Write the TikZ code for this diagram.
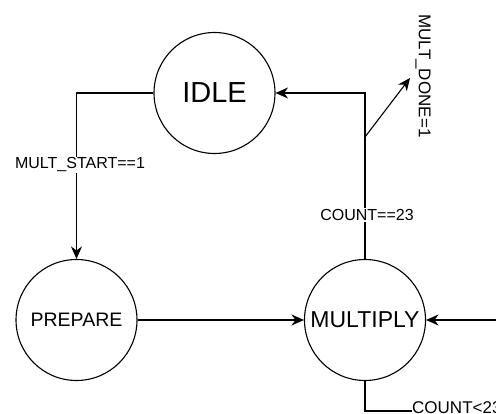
\documentclass[tikz,border=0pt]{standalone}
\usepackage{fontspec}
\setmainfont{Liberation Sans}
\usetikzlibrary{arrows.meta}
\begin{document}
\begin{tikzpicture}[x=1pt,y=-1pt,
  state/.style={circle,draw,line width=1.1pt,minimum size=121pt,inner sep=0pt},
  lab/.style={font=\fontsize{16}{18}\selectfont,inner sep=1pt},
  conn/.style={line width=1.1pt},
  arr/.style={conn,-{Stealth[length=12.5pt,width=11pt,inset=4pt]}}]
\clip (0,0) rectangle (496,414);
\useasboundingbox (0,0) rectangle (496,414);
\node[state,font=\fontsize{29}{32}\selectfont] (idle) at (214.5,93) {IDLE};
\node[state,font=\fontsize{19.5}{22}\selectfont] (prep) at (76.5,320) {PREPARE};
\node[state,font=\fontsize{23}{26}\selectfont] (mult) at (365,320) {MULTIPLY};
\coordinate (tl) at (76.5,93);
\draw[arr] (idle.west) -- (tl) -- (prep.north);
\node[lab,fill=white] (ms) at (80,165) {MULT\_START==1};
\draw[arr] (prep.east) -- (mult.west);
\coordinate (tr) at (365,93);
\draw[arr] (mult.north) -- (tr) -- (idle.east);
\node[lab,fill=white] (c23) at (367,215) {COUNT==23};
\coordinate (br) at (365,137);
\coordinate (dn) at (410,78);
\draw[arr] (br) -- (dn);
\node[lab,font=\fontsize{17}{19}\selectfont,rotate=-90] (md) at (423,76) {MULT\_DONE=1};
\coordinate (rin) at (500,320);
\draw[arr] (rin) -- (mult.east);
\coordinate (cl) at (412,411);
\draw[conn] (mult.south) |- (cl);
\node[lab,font=\fontsize{17}{19}\selectfont,anchor=base west,inner sep=0pt] (lt) at (412,413.5) {COUNT<23};
\end{tikzpicture}
\end{document}
